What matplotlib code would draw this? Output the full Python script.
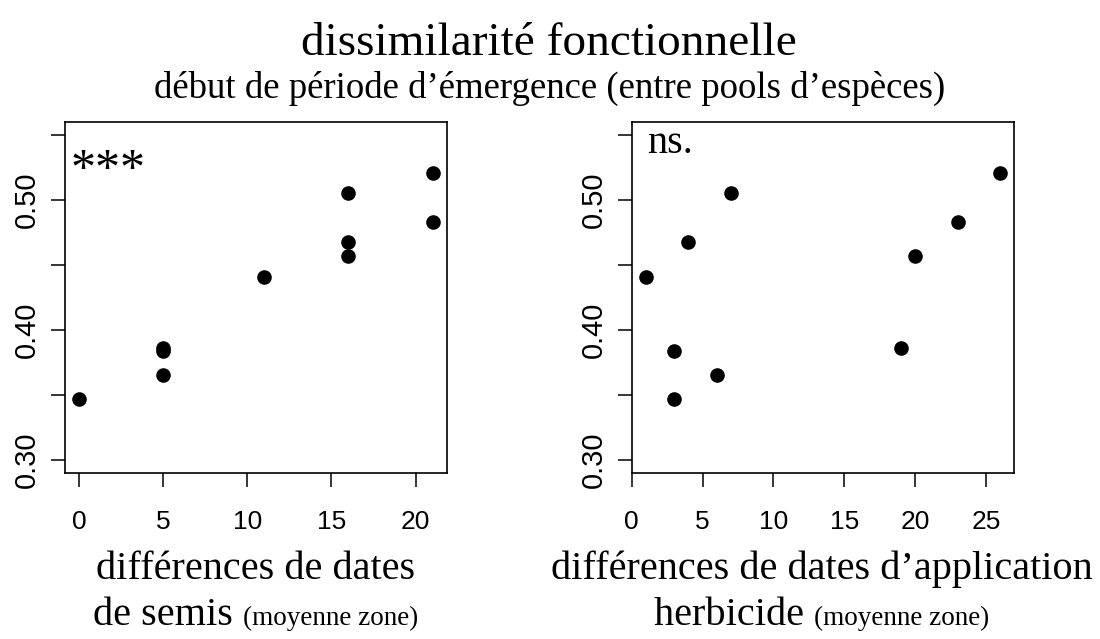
import matplotlib
matplotlib.use("Agg")
import matplotlib.pyplot as plt

# dates de semis (left) / dates d'application herbicide (right)
semis_diff = [0, 5, 5, 5, 11, 16, 16, 16, 21, 21]
semis_dissim = [0.347, 0.384, 0.386, 0.365, 0.441, 0.505, 0.468, 0.457, 0.521, 0.483]

herb_diff = [1, 3, 3, 4, 6, 7, 19, 20, 23, 26]
herb_dissim = [0.441, 0.384, 0.347, 0.468, 0.365, 0.505, 0.386, 0.457, 0.483, 0.521]

yticks = [0.30, 0.35, 0.40, 0.45, 0.50, 0.55]
ytick_labels = ["0.30", "", "0.40", "", "0.50", ""]

SERIF = "Liberation Serif"
SANS = "Liberation Sans"

fig = plt.figure(figsize=(11, 6.39), dpi=100)
ax1 = fig.add_axes([0.0588, 0.2602, 0.3473, 0.5488])
ax2 = fig.add_axes([0.5743, 0.2602, 0.3478, 0.5488])


def style_axis(ax, xdata, xticks):
    lo, hi = min(xdata), max(xdata)
    pad = (hi - lo) * 0.04
    ax.set_xlim(lo - pad, hi + pad)
    ax.set_ylim(0.29, 0.56)
    ax.set_xticks(xticks)
    ax.set_xticklabels([str(t) for t in xticks], family=SANS, fontsize=19)
    ax.set_yticks(yticks)
    ax.set_yticklabels(ytick_labels, family=SANS, fontsize=21,
                       rotation=90, va="center")
    ax.tick_params(direction="out", length=10, width=1.1, pad=7)
    ax.tick_params(axis="x", pad=17)
    for sp in ax.spines.values():
        sp.set_linewidth(1.2)


ax1.scatter(semis_diff, semis_dissim, s=90, color="black", zorder=3)
style_axis(ax1, semis_diff, [0, 5, 10, 15, 20])
ax1.text(-0.5, 0.513, "***", family=SERIF, fontsize=36,
         ha="left", va="baseline")

ax2.scatter(herb_diff, herb_dissim, s=90, color="black", zorder=3)
style_axis(ax2, herb_diff, [0, 5, 10, 15, 20, 25])
ax2.text(1.1, 0.536, "ns.", family=SERIF, fontsize=29,
         ha="left", va="baseline")

# titles
fig.text(0.499, 0.932, "dissimilarité fonctionnelle", family=SERIF,
         fontsize=34, ha="center", va="center")
fig.text(0.5, 0.862, "début de période d\u2019émergence (entre pools d\u2019espèces)",
         family=SERIF, fontsize=26.5, ha="center", va="center")


def two_size_label(xc, y, big, small, big_size=29, small_size=19.5):
    # big + small text on one line, centered at xc (figure coords)
    t1 = fig.text(0, y, big, family=SERIF, fontsize=big_size,
                  ha="left", va="baseline")
    t2 = fig.text(0, y, small, family=SERIF, fontsize=small_size,
                  ha="left", va="baseline")
    fig.canvas.draw()
    r = fig.canvas.get_renderer()
    w1 = t1.get_window_extent(r).width / fig.bbox.width
    w2 = t2.get_window_extent(r).width / fig.bbox.width
    x0 = xc - (w1 + w2) / 2
    t1.set_x(x0)
    t2.set_x(x0 + w1)


fig.text(0.232, 0.094, "différences de dates", family=SERIF, fontsize=29,
         ha="center", va="baseline")
two_size_label(0.232, 0.022, "de semis ", "(moyenne zone)")

fig.text(0.747, 0.094, "différences de dates d\u2019application", family=SERIF,
         fontsize=29, ha="center", va="baseline")
two_size_label(0.747, 0.022, "herbicide ", "(moyenne zone)")

fig.savefig("out.png", dpi=100)
